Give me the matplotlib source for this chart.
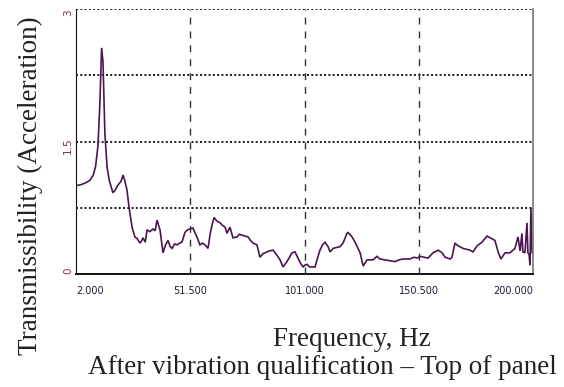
import matplotlib
matplotlib.use("Agg")
import matplotlib.pyplot as plt

freq_hz = [2.0, 4.0, 6.0, 8.0, 9.5, 10.5, 11.5, 12.3, 13.1, 13.7, 14.5, 15.5, 16.5, 18.0,
           19.0, 20.0, 21.5, 22.4, 23.2, 24.1, 25.0, 26.3, 27.5, 28.5, 29.7, 30.5, 31.0,
           32.0, 32.8, 34.0, 35.4, 36.3, 37.1, 38.4, 39.7, 40.8, 41.9, 42.8, 43.6, 44.7,
           45.8, 46.9, 47.9, 49.2, 50.3, 51.4, 52.7, 53.5, 54.4, 55.7, 56.8, 57.9, 59.2,
           60.1, 60.9, 61.8, 63.0, 64.4, 65.5, 66.6, 67.4, 68.7, 70.0, 71.8, 72.8, 73.9,
           75.2, 76.5, 77.6, 78.7, 80.4, 81.7, 83.0, 83.9, 85.5, 87.4, 89.1, 90.4, 91.7,
           93.4, 94.5, 95.6, 96.9, 98.2, 99.3, 100.4, 101.2, 102.1, 103.2, 104.3, 105.6,
           106.4, 107.7, 108.8, 109.9, 111.2, 112.1, 113.4, 115.0, 116.4, 117.7, 119.4,
           119.9, 121.6, 122.9, 124.0, 125.1, 126.4, 128.1, 130.7, 132.4, 133.7, 136.0,
           138.1, 140.2, 142.0, 143.7, 146.7, 148.5, 149.8, 151.1, 154.5, 156.7, 158.9,
           160.6, 161.9, 164.1, 164.9, 166.2, 167.5, 169.7, 172.7, 174.0, 175.8, 177.9,
           180.1, 181.4, 183.5, 184.9, 186.1, 187.9, 190.0, 192.2, 193.5, 194.4, 195.2,
           195.6, 196.5, 197.4, 197.8, 198.3, 198.7, 199.1, 199.6, 200.0]
transmissibility = [1.00, 1.01, 1.03, 1.06, 1.12, 1.22, 1.45, 1.90, 2.56, 2.40, 1.60, 1.20,
                    1.05, 0.92, 0.95, 1.00, 1.05, 1.12, 1.05, 0.95, 0.75, 0.53, 0.42, 0.40,
                    0.35, 0.38, 0.41, 0.36, 0.50, 0.48, 0.51, 0.49, 0.61, 0.50, 0.24, 0.33,
                    0.38, 0.31, 0.29, 0.34, 0.33, 0.35, 0.36, 0.47, 0.50, 0.51, 0.52, 0.47,
                    0.42, 0.33, 0.35, 0.33, 0.29, 0.45, 0.55, 0.64, 0.60, 0.58, 0.55, 0.53,
                    0.46, 0.53, 0.41, 0.42, 0.45, 0.44, 0.43, 0.42, 0.38, 0.35, 0.33, 0.19,
                    0.23, 0.24, 0.26, 0.27, 0.21, 0.16, 0.08, 0.14, 0.19, 0.24, 0.25, 0.18,
                    0.12, 0.08, 0.10, 0.11, 0.08, 0.08, 0.08, 0.16, 0.27, 0.33, 0.36, 0.31,
                    0.25, 0.29, 0.30, 0.31, 0.35, 0.46, 0.47, 0.42, 0.36, 0.30, 0.24, 0.09,
                    0.16, 0.16, 0.20, 0.17, 0.16, 0.15, 0.14, 0.16, 0.17, 0.17, 0.19, 0.18,
                    0.20, 0.18, 0.24, 0.27, 0.24, 0.19, 0.17, 0.19, 0.35, 0.32, 0.29, 0.27,
                    0.25, 0.32, 0.36, 0.43, 0.41, 0.38, 0.25, 0.17, 0.24, 0.24, 0.29, 0.42,
                    0.26, 0.46, 0.25, 0.24, 0.58, 0.24, 0.22, 0.10, 0.75, 0.24, 0.24]

x_ticks = [2.0, 51.5, 101.0, 150.5, 200.0]
x_tick_labels = ["2.000", "51.500", "101.000", "150.500", "200.000"]
y_ticks = [0, 1.5, 3]
y_tick_labels = ["0", "1.5", "3"]
y_grid = [0.75, 1.5, 2.25, 3.0]

fig = plt.figure(figsize=(5.64, 3.87), dpi=100)
ax = fig.add_axes([76/564, 1-274/387, (533-76)/564, (274-9)/387])

ax.plot(freq_hz, transmissibility, color="#4b1650", lw=1.2, solid_joinstyle="miter")

ax.set_xlim(2, 200)
ax.set_ylim(0, 3)

for v in y_grid:
    ax.axhline(v, color="#1a1a1a", lw=1.4, ls=(0, (1, 1.2)), zorder=0)
for v in x_ticks[1:-1]:
    ax.axvline(v, color="#333333", lw=1.0, ls=(0, (5, 5)), zorder=0)

ax.spines["top"].set_visible(False)
ax.spines["left"].set_color("#111111")
ax.spines["bottom"].set_color("#111111")
ax.spines["bottom"].set_linewidth(1.4)
ax.spines["right"].set_color("#777777")
ax.spines["right"].set_linewidth(1.2)

ax.set_xticks(x_ticks)
ax.set_xticklabels(x_tick_labels, fontfamily="DejaVu Sans", fontsize=7, color="#1a1a3a")
ax.tick_params(axis="x", length=0, pad=9)
labs = ax.get_xticklabels()
labs[0].set_horizontalalignment("left")
labs[-1].set_horizontalalignment("right")

ax.set_yticks(y_ticks)
ax.set_yticklabels(y_tick_labels, fontfamily="DejaVu Sans", fontsize=7.5, color="#8a2a55",
                   rotation=90)
ax.tick_params(axis="y", length=0, pad=2)
ylabs = ax.get_yticklabels()
ylabs[0].set_verticalalignment("bottom")
ylabs[-1].set_verticalalignment("top")

serif = "Liberation Serif"
fig.text(30/564, 1-186/387, "Transmissibility (Acceleration)", rotation=90,
         ha="center", va="center", fontsize=19.5, fontfamily=serif, color="#222222")
fig.text(352/564, 1-340/387, "Frequency, Hz", ha="center", va="center",
         fontsize=19.5, fontfamily=serif, color="#222222")
fig.text(322/564, 1-367/387, "After vibration qualification \u2013 Top of panel",
         ha="center", va="center", fontsize=19.5, fontfamily=serif, color="#222222")

fig.savefig("out.png", dpi=100)
